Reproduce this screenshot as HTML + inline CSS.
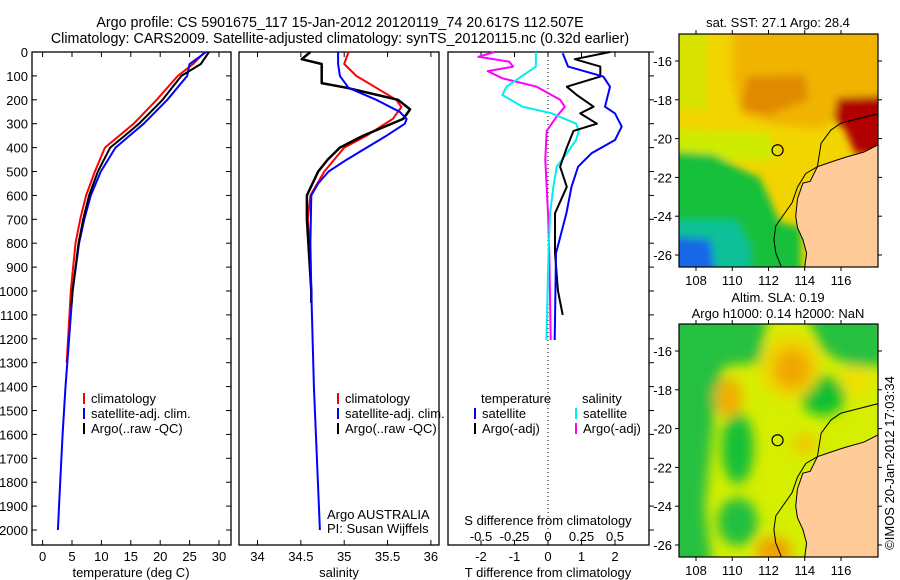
<!DOCTYPE html>
<html><head><meta charset="utf-8">
<style>
body{margin:0;background:#fff;}
svg{display:block;font-family:"Liberation Sans",sans-serif;font-size:13px;}
</style></head>
<body>
<svg id="fig" width="900" height="580" viewBox="0 0 900 580" xmlns="http://www.w3.org/2000/svg">
<defs>
<filter id="blur4" x="-20%" y="-20%" width="140%" height="140%"><feGaussianBlur stdDeviation="4"/></filter>
<filter id="blur6" x="-20%" y="-20%" width="140%" height="140%"><feGaussianBlur stdDeviation="6"/></filter>
<clipPath id="clipTop"><rect x="679" y="34" width="199" height="233"/></clipPath>
<clipPath id="clipBot"><rect x="679" y="324" width="199" height="233"/></clipPath>
</defs>
<text x="340" y="27" text-anchor="middle" style="font-size:14.3px">Argo profile: CS 5901675_117 15-Jan-2012 20120119_74 20.617S 112.507E</text>
<text x="340" y="43" text-anchor="middle" style="font-size:14.3px">Climatology: CARS2009. Satellite-adjusted climatology: synTS_20120115.nc (0.32d earlier)</text>
<g id="g"></g>
</svg>
<script>
// ---------- data ----------
const depthTicks=[0,100,200,300,400,500,600,700,800,900,1000,1100,1200,1300,1400,1500,1600,1700,1800,1900,2000];
const tempTicks=[0,5,10,15,20,25,30];
const salTicks=[34,34.5,35,35.5,36];
const salTickLabels=["34","34.5","35","35.5","36"];
const tdiffTicks=[-2,-1,0,1,2];
const sdiffTicks=[-0.5,-0.25,0,0.25,0.5];
const sdiffTickLabels=["-0.5","-0.25","0","0.25","0.5"];

const tempClimDepth=[0,50,100,200,300,400,500,600,700,800,1000,1300];
const tempClimVal=[27.6,25.6,23.0,19.4,15.5,10.6,8.9,7.4,6.4,5.6,4.8,4.1];
const tempSatDepth=[0,50,100,200,300,400,500,600,700,800,1000,1200,1400,1600,1800,2000];
const tempSatVal=[27.8,25.0,24.6,21.2,17.2,12.4,9.9,8.2,7.1,6.2,5.1,4.5,3.9,3.4,3.0,2.6];
const tempArgoDepth=[0,50,100,150,200,250,300,350,400,500,600,700,800,1000,1060];
const tempArgoVal=[28.3,26.9,23.6,22.0,20.4,18.4,16.4,14.0,11.5,9.4,7.9,6.9,6.1,5.1,4.9];

const salClimDepth=[0,50,100,150,200,230,280,350,400,500,600,700,800];
const salClimVal=[35.05,35.0,35.14,35.37,35.6,35.66,35.56,35.26,35.0,34.77,34.61,34.58,34.6];
const salSatDepth=[0,50,100,150,200,250,280,300,350,400,450,500,550,600,800,1000,1400,2000];
const salSatVal=[34.93,34.93,34.95,35.05,35.37,35.64,35.72,35.7,35.49,35.26,35.03,34.82,34.7,34.62,34.61,34.62,34.65,34.72];
const salArgoDepth=[0,30,50,100,130,150,200,240,280,350,400,450,500,600,700,1000,1050];
const salArgoVal=[34.61,34.51,34.74,34.74,34.74,35.03,35.62,35.76,35.68,35.22,34.95,34.81,34.7,34.57,34.57,34.62,34.62];

const tdSatDepth=[5,61,103,145,229,257,312,368,424,480,564,675,842,1205];
const tdSatVal=[0.44,0.6,1.65,1.85,1.7,2.0,2.2,2.0,1.3,0.9,0.7,0.55,0.24,0.2];
const tdArgoDepth=[0,30,61,103,145,180,229,257,300,330,400,480,564,675,842,1000,1100];
const tdArgoVal=[1.85,0.8,1.56,1.56,0.56,0.86,1.36,0.96,1.46,0.76,0.56,0.36,0.56,0.21,0.21,0.3,0.44];
const sdSatDepth=[0,61,145,180,229,257,300,330,368,424,480,564,675,842,1205];
const sdSatVal=[-0.09,-0.09,-0.31,-0.34,-0.19,0.03,0.21,0.23,0.21,0.14,0.065,0.04,0.016,0.004,-0.012];
const sdArgoDepth=[0,20,40,61,80,110,145,200,229,270,330,450,564,675,842,1205];
const sdArgoVal=[-0.4,-0.52,-0.29,-0.26,-0.45,-0.34,-0.084,0.09,0.125,0.065,-0.01,-0.02,-0.01,0.0,0.01,0.02];

const lonTicks=[108,110,112,114,116];
const latTicks=[-16,-18,-20,-22,-24,-26];

// ---------- helpers ----------
const NS="http://www.w3.org/2000/svg";
const G=document.getElementById('g');
function mk(tag,attrs,parent){const e=document.createElementNS(NS,tag);for(const k in attrs)e.setAttribute(k,attrs[k]);(parent||G).appendChild(e);return e;}
function txt(x,y,s,anchor,extra){const t=mk('text',Object.assign({x:x,y:y,'text-anchor':anchor||'start'},extra||{}));t.textContent=s;return t;}

const TOP=52,BOT=545;
const yD=d=>TOP+d*(478/2000);
const P1={x0:32,x1:231}, P2={x0:239,x1:439}, P3={x0:448,x1:649};
const xT=v=>42.6+v*5.88;
const xS=v=>257.5+(v-34)*86.7;
const xTD=v=>548+v*33.5;
const xSD=v=>548+v*134;

[P1,P2,P3].forEach((p,i)=>{
  const r=mk('rect',{x:p.x0,y:TOP,width:p.x1-p.x0,height:BOT-TOP,fill:'none',stroke:'#000','stroke-width':1.3});
  
  
});
depthTicks.forEach(d=>{
  const y=yD(d);
  mk('line',{x1:P1.x0,y1:y,x2:P1.x0+5,y2:y,stroke:'#000'});
  mk('line',{x1:P1.x1,y1:y,x2:P1.x1-5,y2:y,stroke:'#000'});
  mk('line',{x1:P3.x1,y1:y,x2:P3.x1+5,y2:y,stroke:'#000'});
  const t=txt(28,y+5,String(d),'end');
  
  
});
function xticks(vals,labels,fx,yl){
  vals.forEach((v,i)=>{const x=fx(v);
    mk('line',{x1:x,y1:TOP,x2:x,y2:TOP+5,stroke:'#000'});
    mk('line',{x1:x,y1:BOT,x2:x,y2:BOT-5,stroke:'#000'});
    const t=txt(x,yl,labels[i],'middle');
    
    
  });
}
xticks(tempTicks,tempTicks.map(String),xT,561);
xticks(salTicks,salTickLabels,xS,561);
xticks(tdiffTicks,tdiffTicks.map(String),xTD,561);
sdiffTicks.forEach((v,i)=>{const t=txt(xSD(v),541,sdiffTickLabels[i],'middle');
  
  });

let t;
t=txt(131,577,'temperature (deg C)','middle');

t=txt(339,577,'salinity','middle');

t=txt(548,577,'T difference from climatology','middle');

t=txt(548,525,'S difference from climatology','middle');


const zl=mk('line',{x1:xTD(0),y1:TOP,x2:xTD(0),y2:BOT,stroke:'#000','stroke-dasharray':'1,3'});



function series(dep,val,fx,color,w,name){
  const pts=dep.map((d,i)=>fx(val[i]).toFixed(1)+','+yD(d).toFixed(1)).join(' ');
  const p=mk('polyline',{points:pts,fill:'none',stroke:color,'stroke-width':w,'stroke-linejoin':'round'});
  
  
}
series(tempClimDepth,tempClimVal,xT,'#f00',2,'temp-climatology-line');
series(tempSatDepth,tempSatVal,xT,'#00f',2,'temp-satellite-line');
series(tempArgoDepth,tempArgoVal,xT,'#000',2,'temp-argo-line');
series(salClimDepth,salClimVal,xS,'#f00',2,'sal-climatology-line');
series(salArgoDepth,salArgoVal,xS,'#000',2.5,'sal-argo-line');
series(salSatDepth,salSatVal,xS,'#00f',2,'sal-satellite-line');
series(sdArgoDepth,sdArgoVal,xSD,'#f0f',2,'sdiff-argo-line');
series(sdSatDepth,sdSatVal,xSD,'#0ee',2,'sdiff-satellite-line');
series(tdArgoDepth,tdArgoVal,xTD,'#000',2,'tdiff-argo-line');
series(tdSatDepth,tdSatVal,xTD,'#00f',2,'tdiff-satellite-line');

function leg(x,y,color,label,name){
  mk('line',{x1:x,y1:y-10,x2:x,y2:y+1,stroke:color,'stroke-width':2});
  const tt=txt(x+7,y,label);
  
  
}
leg(84,403,'#f00','climatology','legend-climatology');
leg(84,418,'#00f','satellite-adj. clim.','legend-satellite-adj');
leg(84,433,'#000','Argo(..raw -QC)','legend-argo');
leg(338,403,'#f00','climatology','legend-climatology-sal');
leg(338,418,'#00f','satellite-adj. clim.','legend-satellite-adj-sal');
leg(338,433,'#000','Argo(..raw -QC)','legend-argo-sal');
t=txt(481,403,'temperature');
t=txt(582,403,'salinity');
leg(475,418,'#00f','satellite','legend-t-satellite');
leg(475,433,'#000','Argo(-adj)','legend-t-argo');
leg(576,418,'#0ee','satellite','legend-s-satellite');
leg(576,433,'#f0f','Argo(-adj)','legend-s-argo');
t=txt(327,519,'Argo AUSTRALIA');
t=txt(327,533,'PI: Susan Wijffels');

// ---------- maps ----------
const lonX=l=>696+(l-108)*18.125;
function latYf(base){return a=>base+(-16-a)*19.4;}
function poly(pts,ly,attrs,parent){
  return mk('polygon',Object.assign({points:pts.map(p=>lonX(p[0]).toFixed(1)+','+ly(p[1]).toFixed(1)).join(' ')},attrs),parent);
}
function pline(pts,ly,attrs,parent){
  return mk('polyline',Object.assign({points:pts.map(p=>lonX(p[0]).toFixed(1)+','+ly(p[1]).toFixed(1)).join(' '),fill:'none'},attrs),parent);
}
const coast=[[118.1,-20.3],[117.25,-20.7],[116.3,-20.95],[115.8,-21.1],[114.7,-21.45],[114.3,-22.2],[113.9,-22.3],[113.6,-23.1],[113.5,-24.0],[113.6,-24.6],[113.9,-25.2],[114.1,-25.9],[114.0,-26.6],[114.0,-27.2],[118.1,-27.2]];
const contour=[[118.1,-18.7],[116,-19.2],[115.45,-19.55],[114.9,-20.24],[114.7,-21.45],[114.06,-21.8],[113.6,-22.5],[113.3,-23.3],[112.4,-24.5],[112.3,-25.2],[112.4,-25.9],[112.7,-26.6],[112.9,-27.2]];

function drawMap(base,clip,fills,name){
  const ly=latYf(base);
  const top=base-27, bot=base+206;
  const grp=mk('g',{'clip-path':'url(#'+clip+')'});
  
  
  fills(grp,ly,top);
  poly(coast,ly,{fill:'#fc9',stroke:'#000','stroke-width':1},grp);
  pline(contour,ly,{stroke:'#000','stroke-width':1},grp);
  const m=mk('circle',{cx:lonX(112.5),cy:ly(-20.6),r:5.5,fill:'none',stroke:'#000','stroke-width':1.2});
  
  
  const fr=mk('rect',{x:679,y:top,width:199,height:233,fill:'none',stroke:'#000','stroke-width':1.2});
  
  
  lonTicks.forEach(l=>{const x=lonX(l);
    mk('line',{x1:x,y1:top,x2:x,y2:top-4,stroke:'#000'});
    mk('line',{x1:x,y1:bot,x2:x,y2:bot+4,stroke:'#000'});
    const tl=txt(x,bot+18,String(l),'middle');
    
    
  });
  latTicks.forEach(a=>{const y=ly(a);
    mk('line',{x1:679,y1:y,x2:675,y2:y,stroke:'#000'});
    mk('line',{x1:878,y1:y,x2:882,y2:y,stroke:'#000'});
    const tl=txt(672,y+5,String(a),'end');
    
    
  });
}
drawMap(61,'clipTop',(g,ly,top)=>{
  mk('rect',{x:679,y:top,width:199,height:233,fill:'#f2d400'},g);
  const b=mk('g',{filter:'url(#blur4)'},g);
  poly([[110,-14],[118.5,-14],[118.5,-18],[116,-18.5],[115,-19.5],[112.5,-19.3],[110.5,-18.8],[110,-17]],ly,{fill:'#f0b400'},b);
  poly([[110.8,-16.8],[114,-16.7],[114.2,-18],[112,-18.8],[110.5,-18.5]],ly,{fill:'#e08a00'},b);
  poly([[115.8,-17.9],[118.5,-17.8],[118.5,-20.8],[116.8,-20.8],[116.2,-19.5],[115.6,-19]],ly,{fill:'#b00000'},b);
  poly([[106,-19.5],[112,-19.7],[112.5,-21],[111,-21.2],[106,-20.8]],ly,{fill:'#cfec00'},b);
  poly([[106,-20.6],[109,-20.8],[110.5,-21.6],[111.5,-22],[112,-23],[112.6,-24.3],[113.8,-24.6],[113.8,-28],[106,-28]],ly,{fill:'#12c03a'},b);
  poly([[106,-24.2],[110.2,-24.2],[111,-25.5],[111,-28],[106,-28]],ly,{fill:'#10c098'},b);
  poly([[106,-25],[108.8,-25.2],[109.2,-28],[106,-28]],ly,{fill:'#1468e6'},b);
  poly([[106,-14],[108.6,-14],[108.6,-18.5],[106,-18.5]],ly,{fill:'#d8e400'},b);
},'sst-map');
drawMap(351,'clipBot',(g,ly,top)=>{
  mk('rect',{x:679,y:top,width:199,height:233,fill:'#d6ee00'},g);
  const b=mk('g',{filter:'url(#blur6)'},g);
  poly([[106,-14],[112,-14],[111.5,-16.6],[109.5,-16.8],[109,-19.5],[108.5,-24],[109,-28],[106,-28]],ly,{fill:'#28c040'},b);
  poly([[114,-14],[118.5,-14],[118.5,-16.8],[116.5,-16.8],[115,-16]],ly,{fill:'#28c040'},b);
  mk('ellipse',{cx:lonX(115),cy:ly(-18.3),rx:22,ry:20,fill:'#10c030'},b);
  mk('ellipse',{cx:lonX(110.3),cy:ly(-21),rx:16,ry:36,fill:'#18c038'},b);
  mk('ellipse',{cx:lonX(110.3),cy:ly(-24.8),rx:20,ry:24,fill:'#20c040'},b);
  mk('ellipse',{cx:lonX(113.2),cy:ly(-16.8),rx:30,ry:32,fill:'#f0d400'},b);
  mk('ellipse',{cx:lonX(113.3),cy:ly(-16.9),rx:18,ry:20,fill:'#f0a800'},b);
  mk('ellipse',{cx:lonX(109.8),cy:ly(-18.4),rx:14,ry:20,fill:'#f0b000'},b);
  mk('ellipse',{cx:lonX(116.8),cy:ly(-17.5),rx:16,ry:14,fill:'#f0e000'},b);
  mk('ellipse',{cx:lonX(112.3),cy:ly(-26.3),rx:18,ry:14,fill:'#f0a000'},b);
  mk('ellipse',{cx:lonX(114),cy:ly(-20.8),rx:12,ry:10,fill:'#f0c800'},b);
},'sla-map');
t=txt(778,27,'sat. SST: 27.1 Argo: 28.4','middle');

t=txt(778,302,'Altim. SLA: 0.19','middle');

t=txt(778,318,'Argo h1000: 0.14 h2000: NaN','middle');

t=txt(894,463,'©IMOS 20-Jan-2012 17:03:34','middle',{transform:'rotate(-90 894 463)'});

</script>
</body></html>
